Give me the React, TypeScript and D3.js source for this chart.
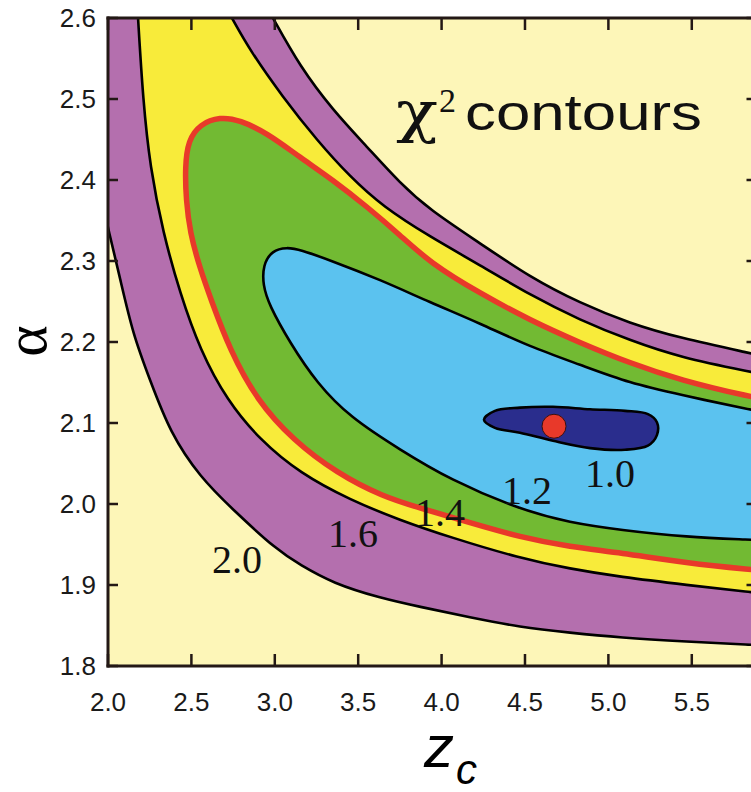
import React from "react";
import * as d3 from "d3";

type P = [number, number];

// axis ticks
const xTicks: number[] = [2.0, 2.5, 3.0, 3.5, 4.0, 4.5, 5.0, 5.5];
const yTicks: number[] = [1.8, 1.9, 2.0, 2.1, 2.2, 2.3, 2.4, 2.5, 2.6];

// contour boundaries, as [z_c, alpha]
const level20Upper: P[] = [
  [2.929, 2.622], [2.989, 2.6], [3.151, 2.54], [3.349, 2.486], [3.553, 2.441],
  [3.751, 2.396], [3.93, 2.363], [4.23, 2.322], [4.53, 2.28], [4.83, 2.248],
  [5.129, 2.223], [5.429, 2.205], [5.855, 2.186], [6.029, 2.178],
];
const level20Lower: P[] = [
  [1.976, 2.363], [2.0, 2.341], [2.072, 2.279], [2.15, 2.209], [2.252, 2.153],
  [2.372, 2.088], [2.552, 2.033], [2.749, 1.993], [3.013, 1.943], [3.151, 1.925],
  [3.349, 1.902], [3.631, 1.884], [3.871, 1.873], [4.17, 1.86], [4.47, 1.848],
  [4.77, 1.841], [5.07, 1.835], [5.471, 1.83], [5.855, 1.826], [6.029, 1.825],
];
const level16Upper: P[] = [
  [2.683, 2.622], [2.743, 2.6], [2.851, 2.56], [3.049, 2.502], [3.253, 2.449],
  [3.451, 2.404], [3.649, 2.367], [3.93, 2.33], [4.23, 2.295], [4.53, 2.258],
  [4.83, 2.227], [5.129, 2.202], [5.429, 2.181], [5.855, 2.163], [6.029, 2.156],
];
const level16Lower: P[] = [
  [2.174, 2.622], [2.18, 2.6], [2.21, 2.499], [2.252, 2.416], [2.33, 2.335],
  [2.432, 2.26], [2.552, 2.19], [2.713, 2.128], [2.911, 2.079], [3.151, 2.038],
  [3.451, 2.005], [3.751, 1.98], [4.05, 1.959], [4.47, 1.933], [4.77, 1.92],
  [5.07, 1.91], [5.471, 1.9], [5.855, 1.891], [6.029, 1.888],
];
const level14: P[] = [
  [6.029, 2.126], [5.855, 2.132], [5.429, 2.153], [5.129, 2.174], [4.83, 2.199],
  [4.53, 2.227], [4.23, 2.26], [3.93, 2.298], [3.751, 2.332], [3.553, 2.367],
  [3.349, 2.4], [3.151, 2.428], [2.953, 2.458], [2.791, 2.474], [2.671, 2.478],
  [2.552, 2.469], [2.48, 2.449], [2.462, 2.416], [2.468, 2.375], [2.492, 2.335],
  [2.548, 2.293], [2.618, 2.252], [2.731, 2.19], [2.893, 2.128], [3.109, 2.079],
  [3.373, 2.038], [3.649, 2.009], [3.871, 1.995], [4.17, 1.977], [4.47, 1.959],
  [4.77, 1.947], [5.07, 1.94], [5.471, 1.927], [5.855, 1.919], [6.029, 1.916],
];
const level12: P[] = [
  [6.029, 2.11], [5.855, 2.116], [5.429, 2.135], [5.129, 2.149], [4.83, 2.172],
  [4.53, 2.194], [4.23, 2.223], [3.93, 2.249], [3.631, 2.277], [3.331, 2.301],
  [3.151, 2.314], [3.073, 2.317], [2.983, 2.313], [2.929, 2.295], [2.929, 2.27],
  [2.965, 2.246], [3.091, 2.199], [3.253, 2.149], [3.451, 2.107], [3.751, 2.067],
  [4.05, 2.03], [4.47, 1.993], [4.77, 1.977], [5.07, 1.968], [5.471, 1.959],
  [5.855, 1.956], [6.029, 1.954],
];
const level10: P[] = [
  [4.254, 2.104], [4.32, 2.115], [4.47, 2.119], [4.668, 2.12], [4.89, 2.117],
  [5.1, 2.115], [5.237, 2.111], [5.291, 2.101], [5.291, 2.085], [5.237, 2.072],
  [5.1, 2.067], [4.89, 2.069], [4.668, 2.078], [4.47, 2.088], [4.32, 2.094],
];
const bestFit: P = [4.674, 2.096];

const contourLabels: { text: string; z: number; a: number }[] = [
  { text: "1.0", z: 5.01, a: 2.038 },
  { text: "1.2", z: 4.512, a: 2.017 },
  { text: "1.4", z: 3.99, a: 1.99 },
  { text: "1.6", z: 3.469, a: 1.964 },
  { text: "2.0", z: 2.773, a: 1.931 },
];

const C = {
  bg: "#fdf6b8",
  purple: "#b46fae",
  yellow: "#f8eb3a",
  green: "#72ba33",
  lightBlue: "#5bc2ef",
  darkBlue: "#2a2d8d",
  red: "#e8392a",
  ink: "#231815",
};

export default function App() {
  const W = 751;
  const H = 792;
  const x = d3.scaleLinear().domain([2, 5.9]).range([108, 758.5]);
  const y = d3.scaleLinear().domain([1.8, 2.6]).range([666, 18]);
  const line = d3
    .line<P>()
    .x((d) => x(d[0]))
    .y((d) => y(d[1]))
    .curve(d3.curveBasis);
  const closed = d3
    .line<P>()
    .x((d) => x(d[0]))
    .y((d) => y(d[1]))
    .curve(d3.curveCatmullRomClosed.alpha(0.5));
  const cont = (pts: P[]) => (line(pts) || "").replace(/^M/, "L");
  const rev = (pts: P[]) => pts.slice().reverse();

  const purpleFill =
    (line(level20Upper) || "") +
    cont(rev(level20Lower)) +
    `L${x(1.9)},${y(2.363)}L${x(1.9)},${y(2.66)}L${x(2.929)},${y(2.66)}Z`;
  const yellowFill = (line(level16Upper) || "") + cont(rev(level16Lower)) + "Z";
  const greenFill = (line(level14) || "") + "Z";
  const blueFill = (line(level12) || "") + "Z";
  const darkFill = closed(level10) || "";

  const x0 = x(2), x1 = x(5.9), y0 = y(2.6), y1 = y(1.8);
  const tick = 12;
  const sans = "'Liberation Sans', Arial, Helvetica, sans-serif";
  const serif = "'Liberation Serif', 'Times New Roman', serif";

  return (
    <div style={{ position: "absolute", left: 0, top: 0, width: W, height: H, overflow: "hidden", background: "#fff" }}>
      <svg width={W} height={H} viewBox={`0 0 ${W} ${H}`} style={{ display: "block" }}>
        <defs>
          <clipPath id="plotClip">
            <rect x={x0} y={y0} width={x1 - x0} height={y1 - y0} />
          </clipPath>
        </defs>
        <g clipPath="url(#plotClip)">
          <rect x={x0} y={y0} width={x1 - x0} height={y1 - y0} fill={C.bg} />
          <path d={purpleFill} fill={C.purple} />
          <path d={yellowFill} fill={C.yellow} />
          <path d={greenFill} fill={C.green} />
          <path d={blueFill} fill={C.lightBlue} />
          <path d={darkFill} fill={C.darkBlue} />
          <g fill="none" stroke="#000" strokeWidth={2.6} strokeLinejoin="round">
            <path d={line(level20Upper) || ""} />
            <path d={line(level20Lower) || ""} />
            <path d={line(level16Upper) || ""} />
            <path d={line(level16Lower) || ""} />
            <path d={line(level12) || ""} />
            <path d={darkFill} />
          </g>
          <path d={line(level14) || ""} fill="none" stroke={C.red} strokeWidth={5.5} />
          <circle cx={x(bestFit[0])} cy={y(bestFit[1])} r={12} fill={C.red} stroke="#3a1010" strokeWidth={1} />
          {contourLabels.map((l) => (
            <text
              key={l.text}
              x={x(l.z)}
              y={y(l.a) + 13.5}
              textAnchor="middle"
              fontFamily={serif}
              fontSize={40}
              fill="#111"
            >
              {l.text}
            </text>
          ))}
          <text x={396} y={131} fontFamily="'DejaVu Serif', serif" fontSize={56} fill="#111" textLength={42} lengthAdjust="spacingAndGlyphs">χ</text>
          <text x={439} y={112} fontFamily={serif} fontSize={34} fill="#111">2</text>
          <text x={465} y={130} fontFamily={sans} fontSize={50} fill="#111" textLength={237} lengthAdjust="spacingAndGlyphs">
            contours
          </text>
        </g>

        {/* axes frame */}
        <g stroke={C.ink} strokeWidth={3} strokeLinecap="square" fill="none">
          <line x1={x0} y1={y0} x2={x0} y2={y1} />
          <line x1={x0} y1={y1} x2={x1} y2={y1} />
          <line x1={x0} y1={y0} x2={x1} y2={y0} />
          <line x1={x1} y1={y0} x2={x1} y2={y1} />
        </g>
        <g stroke={C.ink} strokeWidth={2.5}>
          {xTicks.map((t) => (
            <g key={"xt" + t}>
              <line x1={x(t)} x2={x(t)} y1={y1} y2={y1 - tick} />
              <line x1={x(t)} x2={x(t)} y1={y0} y2={y0 + tick} />
            </g>
          ))}
          {yTicks.map((t) => (
            <g key={"yt" + t}>
              <line x1={x0} x2={x0 + tick - 2} y1={y(t)} y2={y(t)} />
              <line x1={x1} x2={x1 - tick} y1={y(t)} y2={y(t)} />
            </g>
          ))}
        </g>
        <g fontFamily={sans} fontSize={26} fill="#1a1a1a">
          {xTicks.map((t) => (
            <text key={"xl" + t} x={x(t)} y={711} textAnchor="middle">
              {d3.format(".1f")(t)}
            </text>
          ))}
          {yTicks.map((t) => (
            <text key={"yl" + t} x={96} y={y(t) + 9} textAnchor="end">
              {d3.format(".1f")(t)}
            </text>
          ))}
        </g>
        <text x={424} y={767} fontFamily={sans} fontSize={60} fontStyle="italic" fill="#000">
          z
        </text>
        <text x={456} y={784} fontFamily={sans} fontSize={42} fontStyle="italic" fill="#000">
          c
        </text>
        <text
          transform={`translate(46,341) rotate(-90)`}
          textAnchor="middle"
          fontFamily={serif}
          fontSize={60}
          fill="#000"
        >
          α
        </text>
      </svg>
    </div>
  );
}
